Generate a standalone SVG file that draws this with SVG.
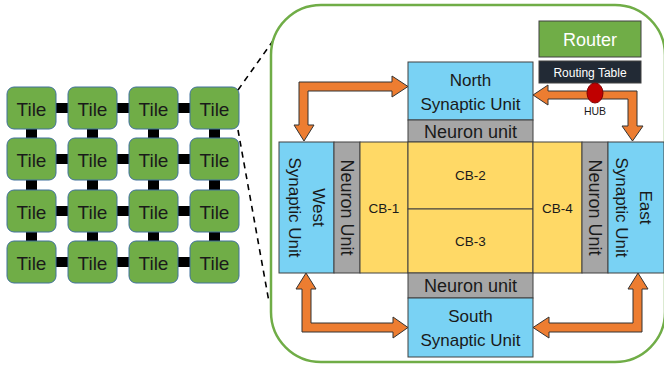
<svg xmlns="http://www.w3.org/2000/svg" width="664" height="369" viewBox="0 0 664 369">
<style>
  text { font-family: "Liberation Sans", Arial, sans-serif; fill: #1a1a1a; text-anchor: middle; }
  .tile { fill: #70AD47; stroke: #41719C; stroke-width: 1; }
  .tt { font-size: 19px; }
  .bar { fill: #000; }
  .su { fill: #79D2F4; stroke: #404040; stroke-width: 1; }
  .nu { fill: #A6A6A6; stroke: #404040; stroke-width: 1; }
  .cb { fill: #FFD966; stroke: #404040; stroke-width: 1; }
  .arrow { fill: #ED7D31; stroke: #333; stroke-width: 1; stroke-linejoin: miter; }
  .dash { stroke: #000; stroke-width: 1.6; stroke-dasharray: 6 5; fill: none; }
  .lbl17 { font-size: 17px; }
  .lbl18 { font-size: 18px; }
  .cbt { font-size: 13.5px; }
</style>

<g id="mesh-connectors">
  <rect class="bar" x="55" y="103" width="14" height="10"/>
  <rect class="bar" x="116" y="103" width="14" height="10"/>
  <rect class="bar" x="177" y="103" width="14" height="10"/>
  <rect class="bar" x="55" y="154" width="14" height="10"/>
  <rect class="bar" x="116" y="154" width="14" height="10"/>
  <rect class="bar" x="177" y="154" width="14" height="10"/>
  <rect class="bar" x="55" y="206" width="14" height="10"/>
  <rect class="bar" x="116" y="206" width="14" height="10"/>
  <rect class="bar" x="177" y="206" width="14" height="10"/>
  <rect class="bar" x="55" y="257" width="14" height="10"/>
  <rect class="bar" x="116" y="257" width="14" height="10"/>
  <rect class="bar" x="177" y="257" width="14" height="10"/>
  <rect class="bar" x="26" y="128" width="11" height="11"/>
  <rect class="bar" x="87" y="128" width="11" height="11"/>
  <rect class="bar" x="148" y="128" width="11" height="11"/>
  <rect class="bar" x="209" y="128" width="11" height="11"/>
  <rect class="bar" x="26" y="179" width="11" height="12"/>
  <rect class="bar" x="87" y="179" width="11" height="12"/>
  <rect class="bar" x="148" y="179" width="11" height="12"/>
  <rect class="bar" x="209" y="179" width="11" height="12"/>
  <rect class="bar" x="26" y="231" width="11" height="11"/>
  <rect class="bar" x="87" y="231" width="11" height="11"/>
  <rect class="bar" x="148" y="231" width="11" height="11"/>
  <rect class="bar" x="209" y="231" width="11" height="11"/>
</g>

<g id="tiles">
  <g id="tile-1-1"><rect class="tile" x="7" y="87" width="49" height="42" rx="7"/><text class="tt" x="31.5" y="116">Tile</text></g>
  <g id="tile-1-2"><rect class="tile" x="68" y="87" width="49" height="42" rx="7"/><text class="tt" x="92.5" y="116">Tile</text></g>
  <g id="tile-1-3"><rect class="tile" x="129" y="87" width="49" height="42" rx="7"/><text class="tt" x="153.5" y="116">Tile</text></g>
  <g id="tile-1-4"><rect class="tile" x="190" y="87" width="49" height="42" rx="7"/><text class="tt" x="214.5" y="116">Tile</text></g>
  <g id="tile-2-1"><rect class="tile" x="7" y="138" width="49" height="42" rx="7"/><text class="tt" x="31.5" y="167">Tile</text></g>
  <g id="tile-2-2"><rect class="tile" x="68" y="138" width="49" height="42" rx="7"/><text class="tt" x="92.5" y="167">Tile</text></g>
  <g id="tile-2-3"><rect class="tile" x="129" y="138" width="49" height="42" rx="7"/><text class="tt" x="153.5" y="167">Tile</text></g>
  <g id="tile-2-4"><rect class="tile" x="190" y="138" width="49" height="42" rx="7"/><text class="tt" x="214.5" y="167">Tile</text></g>
  <g id="tile-3-1"><rect class="tile" x="7" y="190" width="49" height="42" rx="7"/><text class="tt" x="31.5" y="219">Tile</text></g>
  <g id="tile-3-2"><rect class="tile" x="68" y="190" width="49" height="42" rx="7"/><text class="tt" x="92.5" y="219">Tile</text></g>
  <g id="tile-3-3"><rect class="tile" x="129" y="190" width="49" height="42" rx="7"/><text class="tt" x="153.5" y="219">Tile</text></g>
  <g id="tile-3-4"><rect class="tile" x="190" y="190" width="49" height="42" rx="7"/><text class="tt" x="214.5" y="219">Tile</text></g>
  <g id="tile-4-1"><rect class="tile" x="7" y="241" width="49" height="42" rx="7"/><text class="tt" x="31.5" y="270">Tile</text></g>
  <g id="tile-4-2"><rect class="tile" x="68" y="241" width="49" height="42" rx="7"/><text class="tt" x="92.5" y="270">Tile</text></g>
  <g id="tile-4-3"><rect class="tile" x="129" y="241" width="49" height="42" rx="7"/><text class="tt" x="153.5" y="270">Tile</text></g>
  <g id="tile-4-4"><rect class="tile" x="190" y="241" width="49" height="42" rx="7"/><text class="tt" x="214.5" y="270">Tile</text></g>
</g>

<g id="zoom-lines">
  <line class="dash" x1="238" y1="90" x2="275" y2="38"/>
  <line class="dash" x1="238" y1="130" x2="269" y2="302"/>
</g>

<g id="tile-detail">
  <rect x="271" y="5" width="394" height="357" rx="50" fill="#fff" stroke="#70AD47" stroke-width="2.5"/>
</g>

<g id="router"><rect x="539" y="21" width="102" height="36" fill="#70AD47" stroke="#404040" stroke-width="1"/><text x="590" y="46" font-size="18px" style="fill:#fff">Router</text></g>
<g id="routing-table"><rect x="539" y="61" width="102" height="22" fill="#222A35" stroke="#404040" stroke-width="1"/><text x="590" y="76.5" font-size="12px" style="fill:#fff">Routing Table</text></g>

<g id="north-su"><rect class="su" x="408" y="62" width="125" height="58"/><text class="lbl17" x="470.5" y="86">North</text><text class="lbl17" x="470.5" y="110">Synaptic Unit</text></g>
<g id="north-nu"><rect class="nu" x="408" y="120" width="125" height="22"/><text class="lbl18" x="470.5" y="138">Neuron unit</text></g>

<g id="west-su"><rect class="su" x="279" y="142" width="55" height="131"/><text class="lbl17" transform="translate(306.5,207.5) rotate(90)"><tspan x="0" y="-6">West</tspan><tspan x="0" y="18">Synaptic Unit</tspan></text></g>
<g id="west-nu"><rect class="nu" x="334" y="142" width="26" height="131"/><text class="lbl18" transform="translate(347,207.5) rotate(90)" x="0" y="6.5">Neuron Unit</text></g>
<g id="cb-1"><rect class="cb" x="360" y="142" width="48" height="131"/><text class="cbt" x="384" y="213">CB-1</text></g>
<g id="cb-2"><rect class="cb" x="408" y="142" width="125" height="67"/><text class="cbt" x="470.5" y="180">CB-2</text></g>
<g id="cb-3"><rect class="cb" x="408" y="209" width="125" height="64"/><text class="cbt" x="470.5" y="246">CB-3</text></g>
<g id="cb-4"><rect class="cb" x="533" y="142" width="49" height="131"/><text class="cbt" x="557.5" y="213">CB-4</text></g>
<g id="east-nu"><rect class="nu" x="582" y="142" width="26" height="131"/><text class="lbl18" transform="translate(595,207.5) rotate(90)" x="0" y="6.5">Neuron Unit</text></g>
<g id="east-su"><rect class="su" x="608" y="142" width="56" height="131"/><text class="lbl17" transform="translate(634,207.5) rotate(90)"><tspan x="0" y="-6">East</tspan><tspan x="0" y="18">Synaptic Unit</tspan></text></g>

<g id="south-nu"><rect class="nu" x="408" y="273" width="125" height="25"/><text class="lbl18" x="470.5" y="292">Neuron unit</text></g>
<g id="south-su"><rect class="su" x="408" y="298" width="125" height="59"/><text class="lbl17" x="470.5" y="322">South</text><text class="lbl17" x="470.5" y="346">Synaptic Unit</text></g>

<g id="connectors">
  <polygon class="arrow" points="408,86.5 392,76 392,82 299,82 299,125 294,125 304,141 314,125 308,125 308,91 392,91 392,97"/>
  <polygon class="arrow" points="533,95 548,85 548,91 637,91 637,126 643,126 632.5,141 622,126 628,126 628,99 548,99 548,105"/>
  <polygon class="arrow" points="306,273 316,289 311,289 311,323 393,323 393,317 408,327.5 393,338 393,332 302,332 302,289 296,289"/>
  <polygon class="arrow" points="533,327.5 549,317 549,323 633,323 633,289 628,289 638,273 648,289 642,289 642,332 549,332 549,338"/>
</g>

<g id="hub"><ellipse cx="595" cy="93" rx="8" ry="10" fill="#C00000" stroke="#7F0000" stroke-width="1"/><text x="595" y="115" font-size="10.5px">HUB</text></g>
</svg>
